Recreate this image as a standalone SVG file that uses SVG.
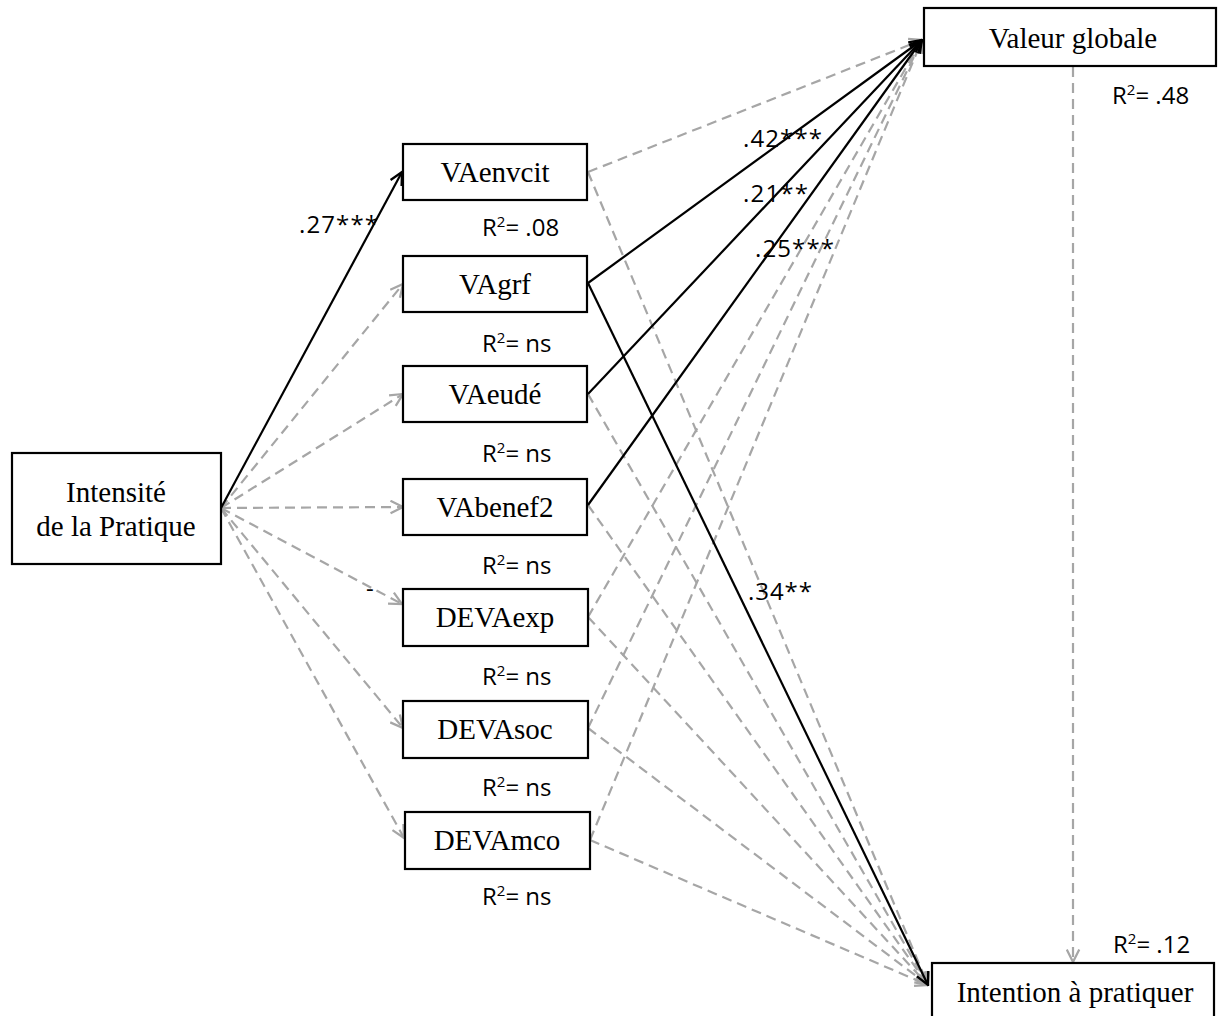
<svg xmlns="http://www.w3.org/2000/svg" width="1219" height="1016" viewBox="0 0 1219 1016">
<defs>
<marker id="ab" viewBox="0 0 12 12" markerUnits="userSpaceOnUse" markerWidth="15" markerHeight="15" refX="11" refY="6" orient="auto">
<path d="M1,1 L11,6 L1,11" fill="none" stroke="#000" stroke-width="1.8"/>
</marker>
<marker id="ag" viewBox="0 0 12 12" markerUnits="userSpaceOnUse" markerWidth="15" markerHeight="15" refX="11" refY="6" orient="auto">
<path d="M1,1 L11,6 L1,11" fill="none" stroke="#A6A6A6" stroke-width="1.8"/>
</marker>
</defs>
<style>
.box{fill:#fff;stroke:#000;stroke-width:2.2}
.nt{font-family:"Liberation Serif","Times New Roman",serif;font-size:29px;fill:#000;text-anchor:middle}
.lb{font-family:"Open Sans","Liberation Sans",sans-serif;font-size:24px;fill:#000}
.sp{font-size:15px}
.s{fill:none;stroke:#000;stroke-width:2.2;marker-end:url(#ab)}
.d{fill:none;stroke:#A6A6A6;stroke-width:2.2;stroke-dasharray:10,6;marker-end:url(#ag)}
</style>
<rect width="1219" height="1016" fill="#fff"/>
<g id="connectors">
<line class="d" x1="221" y1="508" x2="403" y2="284"/>
<line class="d" x1="221" y1="508" x2="403" y2="394"/>
<line class="d" x1="221" y1="508" x2="403" y2="507"/>
<line class="d" x1="221" y1="508" x2="402" y2="604"/>
<line class="d" x1="221" y1="508" x2="403" y2="728"/>
<line class="d" x1="221" y1="508" x2="404" y2="838"/>
<line class="d" x1="588" y1="172" x2="922" y2="40"/>
<line class="d" x1="588" y1="617" x2="922" y2="40"/>
<line class="d" x1="588" y1="728" x2="922" y2="40"/>
<line class="d" x1="590" y1="840" x2="922" y2="40"/>
<line class="d" x1="588" y1="172" x2="928" y2="985"/>
<line class="d" x1="588" y1="394" x2="928" y2="985"/>
<line class="d" x1="588" y1="505" x2="928" y2="985"/>
<line class="d" x1="588" y1="617" x2="928" y2="985"/>
<line class="d" x1="588" y1="728" x2="928" y2="985"/>
<line class="d" x1="590" y1="840" x2="928" y2="985"/>
<line class="d" x1="1073" y1="67" x2="1073" y2="962"/>
<line class="s" x1="221" y1="508" x2="402" y2="172"/>
<line class="s" x1="588" y1="283" x2="922" y2="40"/>
<line class="s" x1="588" y1="394" x2="922" y2="40"/>
<line class="s" x1="588" y1="505" x2="922" y2="40"/>
<line class="s" x1="588" y1="283" x2="928" y2="985"/>
</g>
<g id="n-intensite"><rect class="box" x="12" y="453" width="209" height="111"/><text class="nt" x="116" y="502">Intensité</text><text class="nt" x="116" y="536">de la Pratique</text></g>
<g id="n-valeur"><rect class="box" x="924" y="8" width="292" height="58"/><text class="nt" x="1073" y="48">Valeur globale</text></g>
<g id="n-intention"><rect class="box" x="932" y="963" width="282" height="60"/><text class="nt" x="1075" y="1002">Intention à pratiquer</text></g>
<g id="n-vaenvcit"><rect class="box" x="403" y="144" width="184" height="56"/><text class="nt" x="495" y="182">VAenvcit</text></g>
<g id="n-vagrf"><rect class="box" x="403" y="256" width="184" height="56"/><text class="nt" x="495" y="294">VAgrf</text></g>
<g id="n-vaeude"><rect class="box" x="403" y="366" width="184" height="56"/><text class="nt" x="495" y="404">VAeudé</text></g>
<g id="n-vabenef2"><rect class="box" x="403" y="479" width="184" height="56"/><text class="nt" x="495" y="517">VAbenef2</text></g>
<g id="n-devaexp"><rect class="box" x="403" y="589" width="185" height="57"/><text class="nt" x="495" y="627">DEVAexp</text></g>
<g id="n-devasoc"><rect class="box" x="403" y="701" width="185" height="57"/><text class="nt" x="495" y="739">DEVAsoc</text></g>
<g id="n-devamco"><rect class="box" x="405" y="812" width="185" height="57"/><text class="nt" x="497" y="850">DEVAmco</text></g>
<g id="labels">
<text class="lb" x="299" y="233" textLength="79" lengthAdjust="spacing">.27***</text>
<text class="lb" x="482" y="236">R<tspan class="sp" dy="-9">2</tspan><tspan dy="9">= .08</tspan></text>
<text class="lb" x="482" y="352">R<tspan class="sp" dy="-9">2</tspan><tspan dy="9">= ns</tspan></text>
<text class="lb" x="482" y="462">R<tspan class="sp" dy="-9">2</tspan><tspan dy="9">= ns</tspan></text>
<text class="lb" x="482" y="574">R<tspan class="sp" dy="-9">2</tspan><tspan dy="9">= ns</tspan></text>
<text class="lb" x="482" y="685">R<tspan class="sp" dy="-9">2</tspan><tspan dy="9">= ns</tspan></text>
<text class="lb" x="482" y="796">R<tspan class="sp" dy="-9">2</tspan><tspan dy="9">= ns</tspan></text>
<text class="lb" x="482" y="905">R<tspan class="sp" dy="-9">2</tspan><tspan dy="9">= ns</tspan></text>
<text class="lb" x="743" y="147" textLength="79" lengthAdjust="spacing">.42***</text>
<text class="lb" x="743" y="202" textLength="65" lengthAdjust="spacing">.21**</text>
<text class="lb" x="755" y="257" textLength="79" lengthAdjust="spacing">.25***</text>
<text class="lb" x="748" y="600" textLength="64" lengthAdjust="spacing">.34**</text>
<text class="lb" x="1112" y="104">R<tspan class="sp" dy="-9">2</tspan><tspan dy="9">= .48</tspan></text>
<text class="lb" x="1113" y="953">R<tspan class="sp" dy="-9">2</tspan><tspan dy="9">= .12</tspan></text>
<text class="lb" x="366" y="597">-</text>
</g>
</svg>
